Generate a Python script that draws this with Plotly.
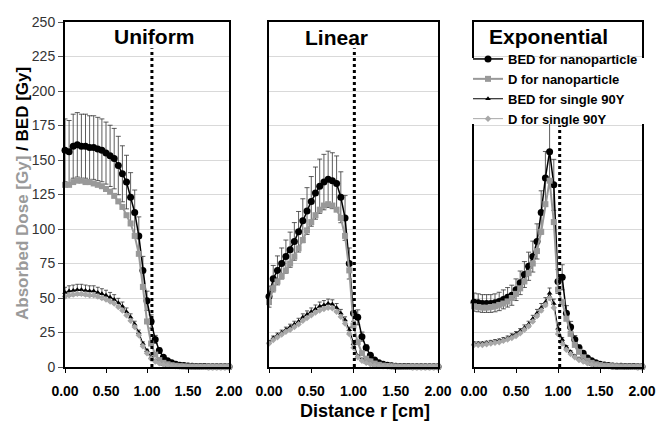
import plotly.graph_objects as go

# ---------------- data ----------------
R_CM = [0.00, 0.05, 0.10, 0.15, 0.20, 0.25, 0.30, 0.35, 0.40, 0.45,
        0.50, 0.55, 0.60, 0.65, 0.70, 0.75, 0.80, 0.85, 0.90, 0.95,
        1.00, 1.05, 1.10, 1.15, 1.20, 1.25, 1.30, 1.35, 1.40, 1.45,
        1.50, 1.55, 1.60, 1.65, 1.70, 1.75, 1.80, 1.85, 1.90, 1.95, 2.00]

PANELS = ["Uniform", "Linear", "Exponential"]
SERIES_NAMES = ["BED for nanoparticle", "D for nanoparticle",
                "BED for single 90Y", "D for single 90Y"]

# Uniform
BED_NP_U = [157, 156, 160, 161, 160, 160, 159, 159, 158, 157, 155, 153, 151, 146, 140, 134, 123, 112, 95, 70, 48,
            33, 20, 12, 7, 4.5, 3, 2, 1.3, 1, 0.7, 0.5, 0.4, 0.3, 0.3, 0.2, 0.2, 0.2, 0.1, 0.1, 0.1]
D_NP_U = [132, 132, 134, 135, 135, 134, 134, 133, 132, 131, 129, 127, 124, 120, 116, 110, 104, 95, 82, 58, 33,
          17, 9, 5, 3, 2, 1.3, 0.9, 0.6, 0.4, 0.3, 0.3, 0.2, 0.2, 0.1, 0.1, 0.1, 0.1, 0.1, 0.1, 0.1]
BED_90Y_U = [54, 55, 55.5, 56, 56, 55.5, 55, 55, 54, 53, 52, 50.5, 49, 46.5, 44, 40, 36, 31, 25, 17, 12,
             7, 4.5, 3, 2, 1.4, 1, 0.7, 0.5, 0.4, 0.3, 0.2, 0.2, 0.2, 0.1, 0.1, 0.1, 0.1, 0.1, 0.1, 0.1]
D_90Y_U = [51, 52, 52.5, 53, 53, 52.5, 52, 52, 51, 50, 49, 47.5, 46, 43.5, 41, 37.5, 33.5, 29, 23, 15, 10,
           6, 4, 2.7, 1.8, 1.2, 0.9, 0.6, 0.4, 0.3, 0.2, 0.2, 0.1, 0.1, 0.1, 0.1, 0.1, 0.1, 0.1, 0.1, 0.1]

# Linear
BED_NP_L = [51, 64, 70, 75, 80, 85, 91, 98, 106, 113, 120, 126, 131, 134, 136, 135, 133, 123, 108, 75, 39,
            36, 22, 14, 8.5, 5, 3, 2, 1.3, 0.9, 0.6, 0.4, 0.3, 0.3, 0.2, 0.2, 0.1, 0.1, 0.1, 0.1, 0.1]
D_NP_L = [47, 57, 62, 66, 70, 75, 80, 86, 92, 99, 105, 110, 114, 117, 118, 117, 114, 108, 95, 70, 30,
          18, 10, 6, 4, 2.5, 1.6, 1, 0.7, 0.5, 0.4, 0.3, 0.2, 0.2, 0.1, 0.1, 0.1, 0.1, 0.1, 0.1, 0.1]
BED_90Y_L = [18, 21, 23, 25, 27, 29, 31, 33, 36, 38, 40, 42, 44, 45, 46, 45.5, 43, 39, 34, 27, 17,
             8, 5.5, 3.5, 2.3, 1.5, 1, 0.7, 0.5, 0.4, 0.3, 0.2, 0.2, 0.1, 0.1, 0.1, 0.1, 0.1, 0.1, 0.1, 0.1]
D_90Y_L = [17, 19.5, 21.5, 23.5, 25.5, 27, 29, 31, 33.5, 35.5, 37.5, 39.5, 41, 42, 43, 42.5, 40, 36.5, 31.5, 24, 14,
           7, 4.5, 3, 2, 1.3, 0.9, 0.6, 0.4, 0.3, 0.2, 0.2, 0.1, 0.1, 0.1, 0.1, 0.1, 0.1, 0.1, 0.1, 0.1]

# Exponential
BED_NP_E = [47, 46.5, 46, 46, 46, 46.5, 47.5, 49, 50.5, 52, 56, 61, 67, 73, 80, 91, 112, 137, 156, 132, 62,
            65, 39, 29, 20, 14, 10, 6.5, 4.5, 3, 2, 1.4, 1, 0.8, 0.6, 0.5, 0.4, 0.3, 0.3, 0.2, 0.2]
D_NP_E = [44, 43.5, 43, 43, 43.5, 44, 45, 46, 47.5, 50, 53, 57, 62, 68, 75, 84, 98, 118, 135, 105, 56,
          47, 35, 24, 16, 11, 7, 4.5, 3, 2, 1.4, 1, 0.8, 0.6, 0.5, 0.4, 0.3, 0.3, 0.2, 0.2, 0.2]
BED_90Y_E = [17, 17, 17, 17.5, 18, 18.5, 19, 20, 21, 22.5, 24, 26, 28.5, 31, 35, 39, 43, 47, 53.5, 46, 28,
             20, 14.5, 11, 8, 6, 4.5, 3, 2, 1.4, 1, 0.7, 0.5, 0.4, 0.3, 0.3, 0.2, 0.2, 0.2, 0.1, 0.1]
D_90Y_E = [16, 16, 16, 16.5, 17, 17.5, 18, 19, 20, 21, 22.5, 24.5, 27, 29.5, 33, 37, 41, 45, 50, 43, 24,
           17, 12.5, 9.5, 7, 5, 4, 2.7, 1.8, 1.2, 0.9, 0.6, 0.5, 0.4, 0.3, 0.2, 0.2, 0.2, 0.1, 0.1, 0.1]

PANEL_DATA = [
    [BED_NP_U, D_NP_U, BED_90Y_U, D_90Y_U],
    [BED_NP_L, D_NP_L, BED_90Y_L, D_90Y_L],
    [BED_NP_E, D_NP_E, BED_90Y_E, D_90Y_E],
]
ERR_PCT_NP = [14.5, 15, 14]      # relative error bars on BED for nanoparticle
ERR_PCT_90Y = [7, 7, 7]          # relative error bars on BED for single 90Y
BOUNDARY_CM = [1.06, 1.01, 1.02]  # dotted boundary line
BOUNDARY_TOP = [231, 231, 175]

Y_TICKS = [0, 25, 50, 75, 100, 125, 150, 175, 200, 225, 250]
X_TICKS = [0, 0.5, 1.0, 1.5, 2.0]
X_TICK_LABELS = ["0.00", "0.50", "1.00", "1.50", "2.00"]

# ---------------- layout helpers ----------------
W, H = 667, 423
FONT = "Liberation Sans, Arial, sans-serif"


def fx(p):
    return p / W


def fy(p):
    return 1 - p / H


X_DOMAINS = [(65, 229), (269, 438), (474, 642)]
Y_DOMAIN = [fy(367), fy(22)]

STYLES = [
    dict(line=dict(color="black", width=1.5),
         marker=dict(symbol="circle", size=7, color="black")),
    dict(line=dict(color="#999999", width=2),
         marker=dict(symbol="square", size=6, color="#999999")),
    dict(line=dict(color="black", width=1),
         marker=dict(symbol="triangle-up", size=5, color="black")),
    dict(line=dict(color="#a8a8a8", width=1),
         marker=dict(symbol="diamond", size=5, color="#a8a8a8")),
]

fig = go.Figure()

for p, series in enumerate(PANEL_DATA):
    xa = "x" if p == 0 else f"x{p+1}"
    ya = "y" if p == 0 else f"y{p+1}"
    for s, vals in enumerate(series):
        err = None
        if s == 0:
            err = dict(type="percent", value=ERR_PCT_NP[p], symmetric=True,
                       color="#333333", thickness=0.8, width=2.5)
        elif s == 2:
            err = dict(type="percent", value=ERR_PCT_90Y[p], symmetric=True,
                       color="#333333", thickness=0.8, width=2)
        fig.add_trace(go.Scatter(
            x=R_CM, y=vals, name=SERIES_NAMES[s], mode="lines+markers",
            xaxis=xa, yaxis=ya, showlegend=(p == 0), legendrank=s + 1,
            error_y=err, cliponaxis=False, **STYLES[s]))

layout = dict(
    width=W, height=H,
    margin=dict(l=0, r=0, t=0, b=0, pad=0, autoexpand=False),
    paper_bgcolor="white", plot_bgcolor="white",
    font=dict(family=FONT, color="black"),
    legend=dict(x=fx(468), y=fy(44), xanchor="left", yanchor="top",
                bgcolor="rgba(0,0,0,0)", itemwidth=30,
                font=dict(family=FONT, size=13, color="black", weight="bold")),
)

for p in range(3):
    sx = "" if p == 0 else str(p + 1)
    layout["xaxis" + sx] = dict(
        domain=[fx(X_DOMAINS[p][0]), fx(X_DOMAINS[p][1])], range=[0, 2],
        anchor="y" + sx, tickvals=X_TICKS, ticktext=X_TICK_LABELS,
        ticks="outside", ticklen=4, tickcolor="black", tickwidth=1,
        ticklabelstandoff=6, automargin=False,
        showline=True, mirror=True, linecolor="black", linewidth=2,
        showgrid=False, zeroline=False,
        tickfont=dict(family=FONT, size=14, color="black", weight="bold"))
    layout["yaxis" + sx] = dict(
        domain=Y_DOMAIN, range=[0, 250], anchor="x" + sx, tickvals=Y_TICKS,
        showticklabels=(p == 0), ticks="outside" if p == 0 else "",
        ticklen=5, tickcolor="#555555", automargin=False,
        showline=True, mirror=True, linecolor="black", linewidth=2,
        showgrid=True, gridcolor="#d9d9d9", gridwidth=1, zeroline=False,
        tickfont=dict(family=FONT, size=14, color="#333333"))

fig.update_layout(**layout)

# boundary dotted lines
for p in range(3):
    sx = "" if p == 0 else str(p + 1)
    fig.add_shape(type="line", xref="x" + sx, yref="y" + sx,
                  x0=BOUNDARY_CM[p], x1=BOUNDARY_CM[p], y0=0, y1=BOUNDARY_TOP[p],
                  line=dict(color="black", width=3, dash="dot"), layer="above")

# white band behind the legend in the third panel (breaks frame)
fig.add_shape(type="rect", xref="paper", yref="y3",
              x0=fx(468), x1=fx(648), y0=176, y1=224,
              line=dict(width=0), fillcolor="white", layer="above")

# panel titles
TITLE_POS = [(154, 36), (336, 37), (548, 36)]
for p in range(3):
    fig.add_annotation(text=PANELS[p], xref="paper", yref="paper",
                       x=fx(TITLE_POS[p][0]), y=fy(TITLE_POS[p][1]),
                       xanchor="center", yanchor="middle", showarrow=False,
                       font=dict(family=FONT, size=21, color="black", weight="bold"))

# axis titles
fig.add_annotation(
    text='<span style="color:#9a9a9a">Absorbed Dose [Gy]</span> / BED [Gy]',
    xref="paper", yref="paper", x=fx(22), y=fy(194), textangle=-90,
    xanchor="center", yanchor="middle", showarrow=False,
    font=dict(family=FONT, size=17, color="black", weight="bold"))
fig.add_annotation(
    text="Distance r [cm]", xref="paper", yref="paper", x=fx(365), y=fy(411),
    xanchor="center", yanchor="middle", showarrow=False,
    font=dict(family=FONT, size=18, color="black", weight="bold"))

fig.write_html("out.html",
               config={"displayModeBar": False, "staticPlot": True},
               post_script="document.body.style.margin='0px';"
                           "document.body.style.overflow='hidden';")
